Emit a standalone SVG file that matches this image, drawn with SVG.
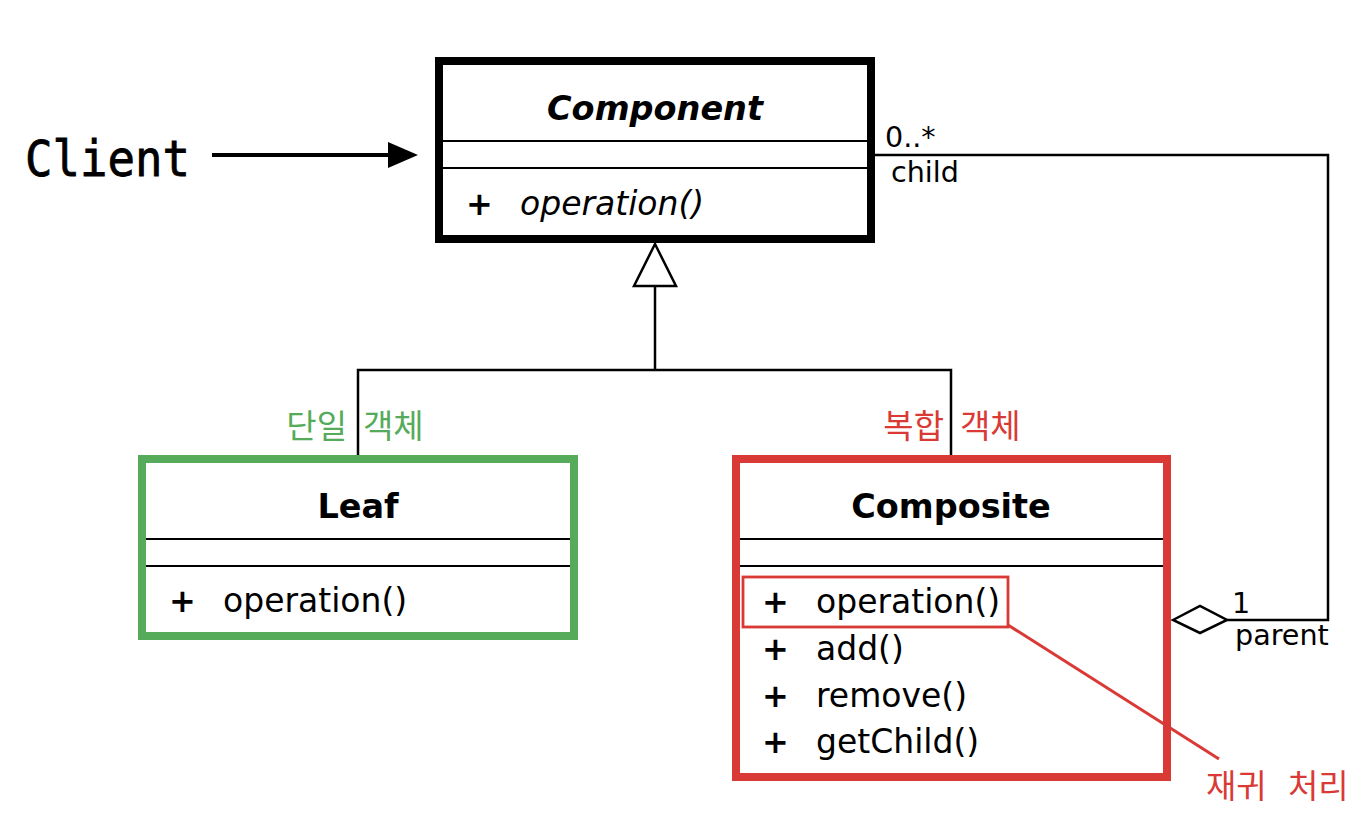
<svg xmlns="http://www.w3.org/2000/svg" width="1366" height="832" viewBox="0 0 1366 832">
<style>
.box{fill:#fff;stroke:#000;stroke-width:8}
.div{stroke:#000;stroke-width:2.2}
.title{font-family:"DejaVu Sans",sans-serif;font-weight:bold;font-size:33.5px;text-anchor:middle;fill:#000}
.plus{font-family:"DejaVu Sans",sans-serif;font-weight:bold;font-size:32px;fill:#000}
.m{font-family:"DejaVu Sans",sans-serif;font-size:33px;fill:#000}
.lab{font-family:"DejaVu Sans",sans-serif;font-size:28.6px;fill:#000}
.kr{font-family:"Noto Sans CJK KR",sans-serif;font-size:33px}
.conn{fill:none;stroke:#000;stroke-width:2.5}
</style>
<rect width="1366" height="832" fill="#fff"/>

<g id="connectors">
  <line x1="212" y1="155" x2="390" y2="155" stroke="#000" stroke-width="4"/>
  <polygon points="388,142 418,155 388,168" fill="#000"/>
  <polyline class="conn" points="874,155 1328,155 1328,620 1227,620"/>
  <polygon points="1173,620 1200,606 1227,620 1200,633" fill="#fff" stroke="#000" stroke-width="2.5"/>
  <polyline class="conn" points="358,456 358,370 951,370 951,456"/>
  <line class="conn" x1="655" y1="370" x2="655" y2="286"/>
  <polygon points="655,244 676,286 634,286" fill="#fff" stroke="#000" stroke-width="2.5"/>
  <text class="lab" x="885" y="147">0..*</text>
  <text class="lab" x="891" y="182">child</text>
  <text class="lab" x="1232" y="613">1</text>
  <text class="lab" x="1235" y="645">parent</text>
</g>

<g id="client">
  <text x="25" y="176" font-family="DejaVu Sans Mono, monospace" font-size="50" stroke="#000" stroke-width="0.8" textLength="165" lengthAdjust="spacingAndGlyphs" fill="#000">Client</text>
</g>

<g id="component">
  <rect class="box" x="439" y="61" width="432" height="178"/>
  <line class="div" x1="443" y1="141" x2="867" y2="141"/>
  <line class="div" x1="443" y1="168" x2="867" y2="168"/>
  <text class="title" x="655" y="120" font-style="italic">Component</text>
  <text class="plus" x="466" y="215">+</text>
  <text class="m" x="520" y="215" font-style="italic">operation()</text>
</g>

<g id="leaf">
  <rect x="142" y="459" width="432" height="177" fill="#fff" stroke="#55ab59" stroke-width="8"/>
  <line class="div" x1="146" y1="539" x2="570" y2="539"/>
  <line class="div" x1="146" y1="566" x2="570" y2="566"/>
  <text class="title" x="358" y="518">Leaf</text>
  <text class="plus" x="169" y="612">+</text>
  <text class="m" x="223" y="612">operation()</text>
  <text class="kr" x="347" y="438" text-anchor="end" fill="#55ab59">단일</text>
  <text class="kr" x="363" y="438" fill="#55ab59">객체</text>
</g>

<g id="composite">
  <rect x="736" y="459" width="431" height="318" fill="#fff" stroke="#d93a35" stroke-width="8"/>
  <line class="div" x1="740" y1="539" x2="1163" y2="539"/>
  <line class="div" x1="740" y1="566" x2="1163" y2="566"/>
  <text class="title" x="951" y="518">Composite</text>
  <text class="plus" x="762" y="613">+</text>
  <text class="m" x="816" y="613">operation()</text>
  <text class="plus" x="762" y="660">+</text>
  <text class="m" x="816" y="660">add()</text>
  <text class="plus" x="762" y="707">+</text>
  <text class="m" x="816" y="707">remove()</text>
  <text class="plus" x="762" y="753">+</text>
  <text class="m" x="816" y="753">getChild()</text>
  <text class="kr" x="944" y="438" text-anchor="end" fill="#d93a35">복합</text>
  <text class="kr" x="960" y="438" fill="#d93a35">객체</text>
</g>

<g id="recursion-note">
  <rect x="743" y="577" width="265" height="50" fill="none" stroke="#d93a35" stroke-width="2.8"/>
  <line x1="1008" y1="625" x2="1219" y2="759" stroke="#d93a35" stroke-width="3"/>
  <text class="kr" x="1206" y="798" fill="#d93a35">재귀</text>
  <text class="kr" x="1288" y="798" fill="#d93a35">처리</text>
</g>
</svg>
